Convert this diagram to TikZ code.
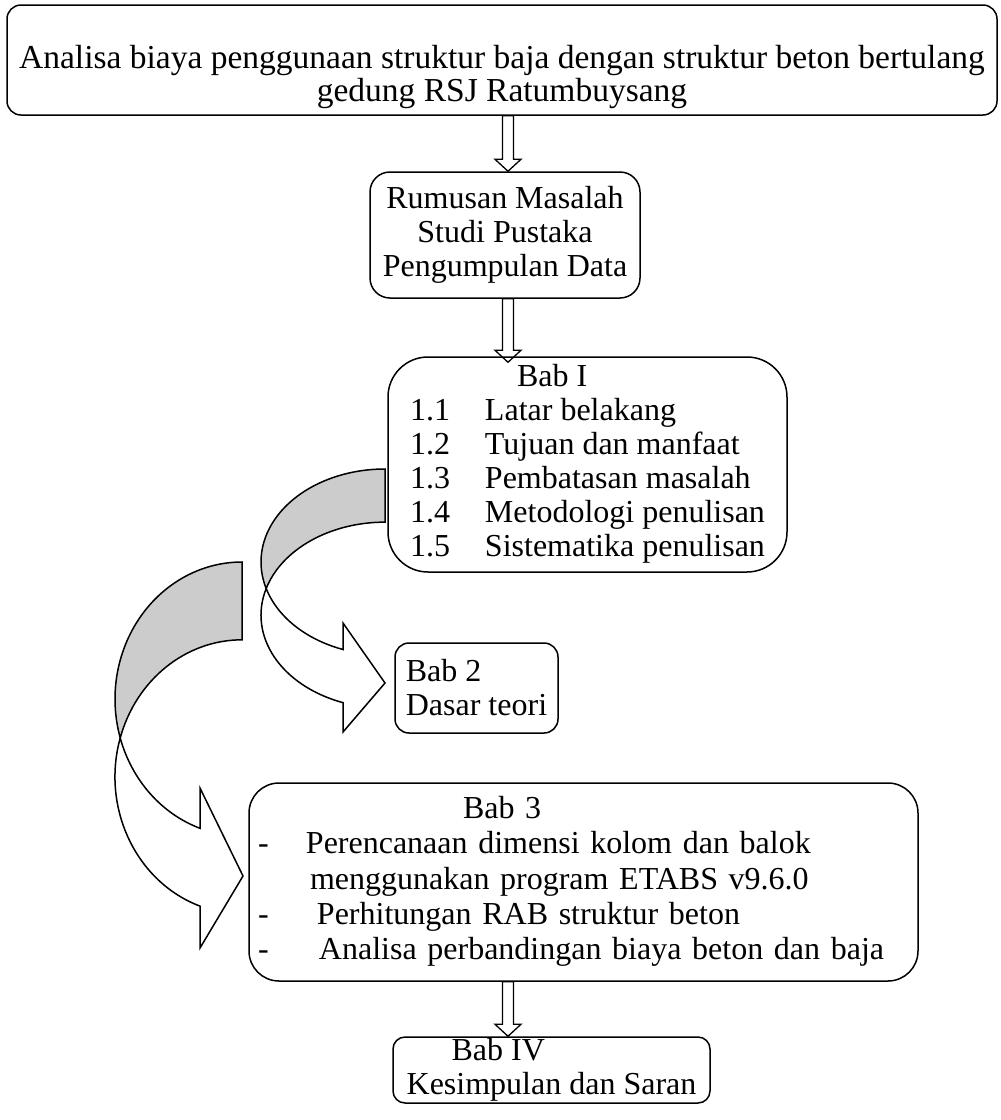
\documentclass[tikz,border=0pt]{standalone}
\usepackage{fontspec}
\setmainfont{Liberation Serif}
\usetikzlibrary{calc}
\definecolor{ink}{HTML}{000000}
\definecolor{shade}{gray}{0.8}

\begin{document}
\begin{tikzpicture}[x=1pt, y=-1pt,
    box/.style={draw=ink, line width=1.5pt, fill=white, inner sep=0pt, align=center,
      font=\fontsize{32}{34}\selectfont, text=ink},
    hollow/.style={draw=ink, line width=1.3pt,
      to path={let \p1=(\tikztostart), \p2=(\tikztotarget) in
        (\x1-5.5pt,\y1) -- (\x1-5.5pt,\y2+12pt) -- (\x1-13pt,\y2+12pt) -- (\x2,\y2)
        -- (\x1+13pt,\y2+12pt) -- (\x1+5.5pt,\y2+12pt) -- (\x1+5.5pt,\y1) -- cycle}},
    back/.style={draw=ink, line width=1.5pt, fill=shade},
    front/.style={draw=ink, line width=1.5pt, fill=white},
  ]
  \useasboundingbox (0,0) rectangle (1001,1120);

  % ---------------------------------------------------------------- boxes
  \node[box, font=\fontsize{33.5}{33}\selectfont, minimum width=990pt, minimum height=110pt,
        rounded corners=14pt] (title) at (502,60)
        {\rule{0pt}{58pt}Analisa biaya penggunaan struktur baja dengan struktur beton bertulang\\
         gedung RSJ Ratumbuysang};
  \node[box, minimum width=270pt, minimum height=126pt, rounded corners=20pt] (rumusan) at (505,235)
        {Rumusan Masalah\\ Studi Pustaka\\ Pengumpulan Data};
  \node[box, minimum width=399pt, minimum height=215pt, rounded corners=40pt] (babI) at (587.5,464.5)
        {\begin{tabular}{@{}p{75pt}@{}l@{}}
           \multicolumn{2}{@{\hspace{107pt}}l@{}}{Bab I}\\
           1.1 & Latar belakang\\
           1.2 & Tujuan dan manfaat\\
           1.3 & Pembatasan masalah\\
           1.4 & Metodologi penulisan\\
           1.5 & Sistematika penulisan
         \end{tabular}};
  \node[box, align=left, minimum width=163pt, minimum height=90pt, rounded corners=14pt] (bab2) at (476.5,688)
        {Bab 2\\ Dasar teori};
  \node[box, align=left, text width=651pt, inner xsep=9pt, minimum height=198pt,
        rounded corners=30pt] (bab3) at (583.5,882)
        {\def\arraystretch{1.04}%
         \begin{tabular}{@{}p{48pt}@{}l@{}}
           \multicolumn{2}{@{\hspace{205pt}}l@{}}{Bab 3}\\
           - & Perencanaan dimensi kolom dan balok\\
             & \hspace{4pt}menggunakan program ETABS v9.6.0\\
           - & \hspace{11pt}Perhitungan RAB struktur beton\\
           - & \hspace{13pt}Analisa perbandingan biaya beton dan baja
         \end{tabular}};
  \node[box, align=left, minimum width=317pt, minimum height=66pt, rounded corners=12pt] (babIV) at (551.5,1070)
        {\hspace*{45pt}Bab IV\\ Kesimpulan dan Saran};

  % ------------------------------------------------------- straight arrows
  \coordinate (axis) at (508,0);
  \draw[hollow] (title.south -| axis) to (rumusan.north -| axis);
  \draw[hollow] (rumusan.south -| axis) to ([yshift=-6pt]babI.north -| axis);
  \draw[hollow] (bab3.south -| axis) to (babIV.north -| axis);

  % --------------------------------------------------------- curved arrows
  % Bab I -> Bab 2
  \filldraw[back] (385,469) arc[start angle=270, end angle=163.4, x radius=124, y radius=93]
    arc[start angle=196.6, end angle=270, x radius=124, y radius=93] -- cycle;
  \filldraw[front] (343,649.5) arc[start angle=109.8, end angle=163.4, x radius=124, y radius=93]
    arc[start angle=196.6, end angle=109.8, x radius=124, y radius=93]
    -- (343,732) -- (385,683) -- (343,623) -- cycle;

  % Bab I -> Bab 3
  \filldraw[back] (242,562) arc[start angle=270, end angle=163.5, x radius=127, y radius=137]
    arc[start angle=196.5, end angle=270, x radius=127, y radius=137] -- cycle;
  \filldraw[front] (200,828.3) arc[start angle=109.3, end angle=163.5, x radius=127, y radius=137]
    arc[start angle=196.5, end angle=109.3, x radius=127, y radius=137]
    -- (200,948) -- (243,876) -- (200,788) -- cycle;
\end{tikzpicture}
\end{document}
